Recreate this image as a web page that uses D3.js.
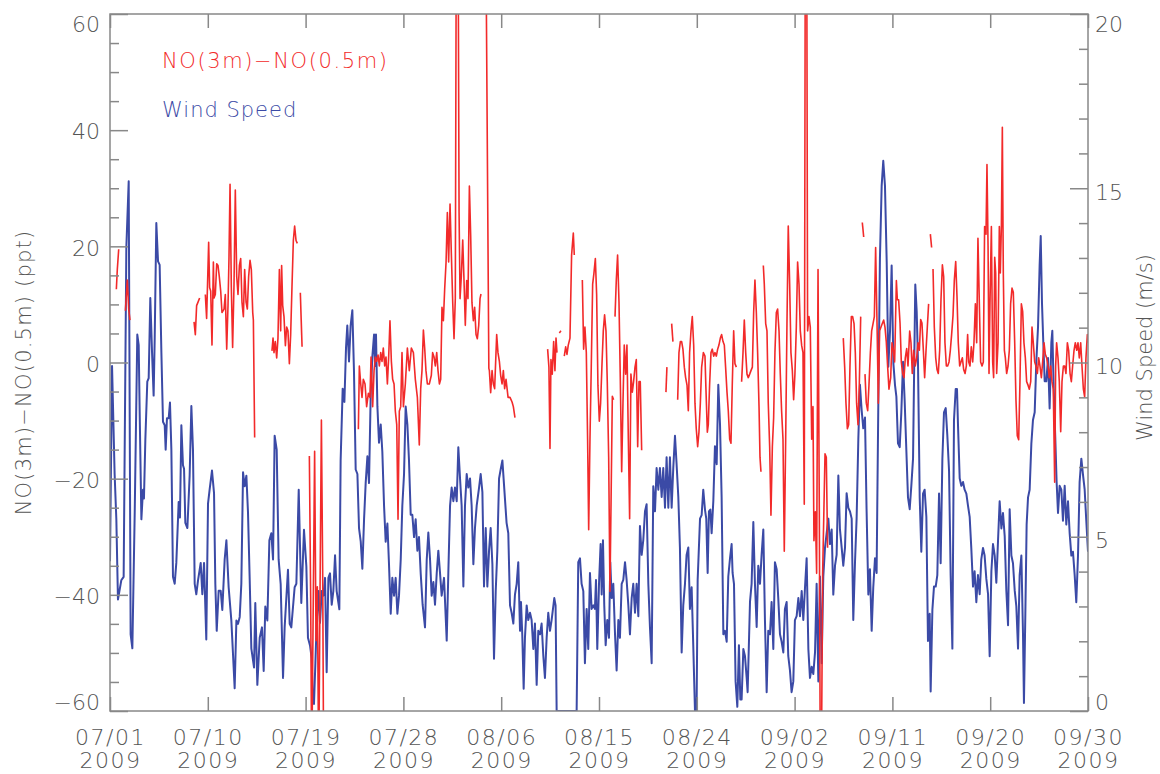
<!DOCTYPE html>
<html>
<head>
<meta charset="utf-8">
<script src="https://cdn.jsdelivr.net/npm/d3@7"></script>
<style>
  body { margin: 0; background: #fff; }
  svg text { font-family: "DejaVu Sans", sans-serif; font-weight: 200; fill: #555; }
</style>
</head>
<body>
<svg id="chart" width="1160" height="774"></svg>
<script>
// time axis: 07/01 .. 09/30 2009, ten equal intervals
const startDay = new Date(Date.UTC(2009, 6, 1))
const endDay = new Date(Date.UTC(2009, 8, 30))
const dateLabels = ['07/01', '07/10', '07/19', '07/28', '08/06', '08/15', '08/24', '09/02', '09/11', '09/20', '09/30']
const yearLabel = '2009'

const noTicks = [-60, -40, -20, 0, 20, 40, 60]
const windTicks = [0, 5, 10, 15, 20]

const seriesNames = ['NO(3m)\u2212NO(0.5m)', 'Wind Speed']
const axisTitles = ['NO(3m)\u2212NO(0.5m) (ppt)', 'Wind Speed (m/s)']

// wind speed, [days since 07/01, m/s]
const windSpeed = [
  [0,4.3],[0.19,9.9],[0.43,6.8],[0.59,5.5],[0.74,3.2],[1.05,3.75],[1.27,3.85],[1.52,13.3],[1.74,15.2],[1.92,2.2],
  [2.08,1.8],[2.3,5.7],[2.54,10.8],[2.67,10.5],[2.76,8.6],[2.92,5.5],[3.07,6.35],[3.16,6.1],[3.29,7.8],[3.47,9.45],
  [3.6,9.55],[3.75,11.85],[3.91,10.3],[4.06,9.05],[4.16,10.7],[4.31,14.0],[4.47,12.9],[4.62,12.8],[4.78,10.3],[4.93,8.3],
  [5.09,8.2],[5.18,7.5],[5.3,8.4],[5.46,8.4],[5.58,8.85],[5.71,7.5],[5.86,3.85],[6.02,3.65],[6.17,4.25],[6.39,6.0],
  [6.51,5.55],[6.64,8.2],[6.79,7.05],[6.89,6.95],[7.01,5.4],[7.2,5.25],[7.41,6.75],[7.57,8.75],[7.72,7.5],[7.88,3.65],
  [8.03,3.35],[8.19,3.75],[8.44,4.25],[8.59,3.35],[8.75,4.25],[8.96,2.05],[9.12,5.95],[9.27,6.35],[9.49,6.9],[9.68,6.25],
  [9.8,3.65],[9.93,2.3],[10.11,3.45],[10.3,3.45],[10.45,2.9],[10.67,4.35],[10.83,4.9],[11.04,3.55],[11.29,2.6],[11.45,1.6],
  [11.6,0.65],[11.76,2.6],[11.91,2.5],[12.07,2.7],[12.22,3.65],[12.38,6.85],[12.53,6.45],[12.69,6.75],[12.84,5.7],[13.0,3.75],
  [13.15,1.8],[13.4,1.25],[13.52,3.1],[13.71,0.75],[13.93,2.1],[14.14,2.4],[14.3,1.15],[14.45,3.0],[14.64,2.6],[14.83,4.9],
  [15.01,5.1],[15.17,4.35],[15.32,7.9],[15.51,7.5],[15.69,4.35],[15.88,3.65],[16.1,0.95],[16.25,2.4],[16.56,4.05],[16.72,2.5],
  [16.87,2.4],[17.18,3.55],[17.34,3.65],[17.56,6.35],[17.8,3.1],[18.05,5.2],[18.27,4.15],[18.42,2.1],[18.61,1.88],[18.77,1.5],
  [18.86,0.33],[18.98,0.2],[19.11,1.37],[19.23,2.53],[19.39,3.44],[19.54,2.53],[19.7,3.44],[19.85,3.31],[20.01,3.82],[20.16,1.11],
  [20.32,3.82],[20.47,3.95],[20.63,3.05],[20.78,3.44],[20.94,4.47],[21.09,3.44],[21.34,2.92],[21.46,7.19],[21.65,9.25],[21.81,8.87],
  [21.96,10.42],[22.08,11.06],[22.24,10.03],[22.39,11.06],[22.55,11.5],[22.7,9.77],[22.86,6.93],[23.02,6.8],[23.17,5.25],[23.33,4.86],
  [23.48,4.08],[23.64,5.5],[23.79,6.54],[23.95,7.31],[24.1,6.54],[24.26,9.12],[24.41,10.16],[24.57,10.8],[24.66,9.9],[24.75,10.8],
  [24.88,8.74],[25.03,7.7],[25.19,8.22],[25.34,7.44],[25.5,5.89],[25.65,4.86],[25.81,5.38],[25.96,4.21],[26.12,2.79],[26.27,3.82],
  [26.43,3.31],[26.58,3.82],[26.74,2.79],[26.89,3.31],[27.05,4.34],[27.2,5.89],[27.36,6.8],[27.51,8.74],[27.67,8.22],[27.82,7.19],
  [27.98,5.63],[28.13,5.63],[28.29,4.99],[28.44,5.5],[28.6,4.6],[28.75,4.99],[28.91,3.95],[29.09,3.05],[29.31,2.4],[29.47,4.34],
  [29.62,5.12],[29.78,4.34],[29.93,3.31],[30.09,3.7],[30.24,3.05],[30.4,3.95],[30.55,4.6],[30.71,3.95],[30.86,3.31],[31.08,3.82],
  [31.33,2.02],[31.48,3.95],[31.64,5.89],[31.79,6.41],[31.95,6.02],[32.1,6.41],[32.26,6.02],[32.41,7.57],[32.57,6.67],[32.72,5.89],
  [32.88,3.57],[33.03,5.89],[33.19,6.8],[33.34,6.41],[33.5,6.67],[33.65,5.89],[33.81,4.21],[33.96,5.25],[34.12,5.89],[34.34,6.41],
  [34.49,6.8],[34.65,6.28],[34.8,3.57],[34.96,5.25],[35.11,3.57],[35.27,4.6],[35.42,5.25],[35.58,4.21],[35.73,1.5],[35.89,3.44],
  [36.04,4.6],[36.2,6.67],[36.35,6.93],[36.51,7.19],[36.9,5.4],[37.06,5.1],[37.22,3.03],[37.37,2.82],[37.53,2.51],[37.68,3.34],
  [37.84,3.65],[37.99,4.27],[38.15,2.3],[38.24,3.13],[38.36,2.2],[38.49,0.64],[38.61,2.1],[38.77,3.03],[38.92,2.61],[39.08,2.82],
  [39.23,2.61],[39.39,1.78],[39.54,2.51],[39.7,0.75],[39.85,2.3],[40.01,2.2],[40.16,2.51],[40.32,1.58],[40.47,0.95],[40.63,2.1],
  [40.78,2.82],[40.94,2.3],[41.09,2.61],[41.34,3.24],[41.46,3.03],[41.56,0],[43.42,0],[43.57,4.27],[43.73,4.38],[43.88,3.65],
  [44.04,3.44],[44.19,1.37],[44.35,2.93],[44.5,1.78],[44.66,3.96],[44.81,2.93],[44.97,3.03],[45.12,2.93],[45.22,3.76],[45.34,1.78],
  [45.5,3.65],[45.65,4.79],[45.75,3.34],[45.87,4.9],[45.99,3.03],[46.12,1.89],[46.27,2.61],[46.43,2.1],[46.55,4.27],[46.68,3.24],
  [46.83,3.65],[46.99,2.2],[47.14,1.16],[47.3,2.61],[47.45,2.1],[47.61,3.65],[47.76,3.76],[47.92,4.27],[48.07,3.76],[48.23,3.03],
  [48.38,2.2],[48.54,3.24],[48.69,3.65],[48.85,2.82],[49.0,3.65],[49.16,2.72],[49.31,5.31],[49.47,4.48],[49.62,4.9],[49.78,5.73],
  [49.93,5.93],[50.09,3.65],[50.24,2.41],[50.4,1.37],[50.55,6.45],[50.71,5.73],[50.86,6.97],[51.02,6.35],[51.17,6.97],[51.33,6.14],
  [51.48,6.97],[51.64,5.83],[51.79,7.28],[51.95,5.83],[52.1,7.28],[52.26,5.83],[52.41,6.97],[52.57,7.9],[52.72,7.08],[52.88,6.14],
  [53.03,4.69],[53.19,1.68],[53.34,3.03],[53.5,3.65],[53.65,4.48],[53.81,4.69],[53.96,2.93],[54.12,3.55],[54.27,1.89],[54.43,0],
  [54.58,0],[54.68,3.76],[54.9,5.52],[55.05,5.62],[55.2,6.35],[55.36,5.78],[55.48,5.52],[55.61,3.96],[55.73,5.73],[55.86,5.78],
  [55.98,5.1],[56.14,6.04],[56.29,7.6],[56.45,7.08],[56.6,9.36],[56.76,8.22],[56.91,6.14],[57.07,2.2],[57.22,2.3],[57.38,1.99],
  [57.53,3.86],[57.69,4.38],[57.84,4.79],[57.93,3.96],[58.06,3.65],[58.21,0.85],[58.37,0.12],[58.52,1.89],[58.65,0.33],[58.77,0.33],
  [58.93,1.78],[59.08,1.58],[59.24,0.95],[59.33,0.54],[59.55,3.13],[59.7,3.65],[59.86,5.42],[60.01,3.65],[60.17,2.41],[60.32,4.17],
  [60.48,3.65],[60.63,4.48],[60.79,5.21],[60.94,2.61],[61.1,0.54],[61.25,2.3],[61.41,2.2],[61.56,3.13],[61.72,1.78],[61.87,4.27],
  [62.03,4.07],[62.18,3.24],[62.34,2.2],[62.49,1.99],[62.65,1.68],[62.8,2.93],[62.96,3.13],[63.11,1.58],[63.27,1.16],[63.42,0.54],
  [63.58,0.85],[63.73,2.61],[63.89,2.72],[64.05,3.24],[64.2,2.72],[64.36,3.44],[64.51,2.61],[64.67,3.55],[64.82,4.38],[64.98,1.78],
  [65.13,0.95],[65.29,1.27],[65.44,1.06],[65.6,1.68],[65.75,3.65],[65.91,0.85],[66.06,3.86],[66.22,1.37],[66.37,3.86],[66.53,4.69],
  [66.68,5.1],[66.84,5.52],[66.99,4.79],[67.15,5.21],[67.3,3.34],[67.46,4.17],[67.61,4.48],[67.77,6.76],[67.92,5.21],[68.08,4.69],
  [68.23,4.17],[68.39,4.69],[68.54,6.25],[68.7,5.83],[68.85,5.73],[69.01,5.52],[69.16,2.61],[69.32,4.27],[69.47,5.52],[69.63,7.8],
  [69.78,9.36],[69.94,8.63],[70.09,8.11],[70.25,8.42],[70.4,5.73],[70.56,3.34],[70.71,4.07],[70.87,2.3],[71.02,3.55],[71.18,4.38],
  [71.33,3.96],[71.49,8.84],[71.64,12.99],[71.8,15.06],[71.95,15.79],[72.11,15.06],[72.27,12.88],[72.42,9.88],[72.58,10.91],[72.73,12.78],
  [72.89,9.98],[73.04,9.36],[73.17,9.02],[73.32,7.68],[73.48,7.57],[73.63,8.57],[73.79,10.02],[73.94,8.91],[74.1,7.46],[74.25,6.13],
  [74.41,5.79],[74.56,6.46],[74.72,7.24],[74.81,9.46],[74.93,12.24],[75.06,11.47],[75.18,10.02],[75.34,6.13],[75.49,4.57],[75.65,6.24],
  [75.8,6.35],[75.96,5.57],[76.11,2.01],[76.27,2.79],[76.36,0.56],[76.52,2.9],[76.67,3.57],[76.83,3.57],[76.98,3.9],[77.14,6.24],
  [77.29,4.24],[77.45,7.24],[77.6,8.57],[77.76,8.69],[77.91,7.91],[78.07,6.9],[78.22,3.9],[78.38,1.79],[78.53,8.35],[78.69,9.24],
  [78.81,9.24],[78.9,8.24],[79.06,6.68],[79.21,6.46],[79.37,6.57],[79.52,6.35],[79.68,6.24],[79.83,5.9],[79.99,5.57],[80.14,4.68],
  [80.3,3.57],[80.45,4.01],[80.61,3.12],[80.76,3.9],[80.92,3.35],[81.07,4.35],[81.23,4.68],[81.38,4.46],[81.54,3.79],[81.7,3.35],
  [81.85,1.57],[82.01,4.01],[82.16,4.79],[82.32,4.46],[82.47,3.68],[82.63,4.9],[82.78,6.02],[82.94,5.24],[83.09,5.68],[83.25,5.01],
  [83.4,3.46],[83.56,2.46],[83.71,5.79],[83.87,4.46],[84.02,4.24],[84.18,3.46],[84.33,3.01],[84.49,1.79],[84.64,3.9],[84.8,4.46],
  [84.95,2.23],[85.04,0.23],[85.17,2.79],[85.29,5.35],[85.42,6.13],[85.57,6.35],[85.73,7.68],[85.88,8.35],[86.04,8.57],[86.19,10.02],
  [86.35,11.02],[86.5,12.8],[86.6,13.63],[86.72,11.69],[86.84,10.58],[86.97,9.46],[87.12,9.46],[87.28,10.13],[87.43,8.68],[87.59,10.58],
  [87.68,10.91],[87.81,9.24],[87.96,7.8],[88.08,6.57],[88.21,5.68],[88.36,6.46],[88.52,6.35],[88.67,5.46],[88.83,6.46],[88.98,5.35],
  [89.14,6.02],[89.29,5.12],[89.45,4.46],[89.6,4.57],[89.76,3.9],[89.91,3.12],[90.07,4.46],[90.22,6.57],[90.38,7.24],[90.53,6.79],
  [90.69,6.35],[90.84,5.46],[91.0,4.57]
]

// NO(3m)-NO(0.5m), ppt; one array per unbroken stretch of data
const noDiff = [
  [[0.59,12.6],[0.68,16.0],[0.81,19.5]],
  [[1.43,8.9],[1.61,14.2],[1.74,9.2],[1.86,7.3]],
  [[7.82,7.0],[7.94,4.8],[8.06,9.8],[8.19,10.4],[8.34,11.1]],
  [[8.87,11.7],[8.99,7.6],[9.18,20.7],[9.27,12.9],[9.37,12.3],[9.49,3.0],[9.62,17.3],[9.68,11.1],[9.8,11.7],[9.93,17.0],
   [10.05,16.7],[10.17,14.8],[10.3,12.3],[10.42,8.6],[10.61,9.2],[10.73,11.7],[10.86,2.3],[10.98,9.8],[11.07,17.9],[11.17,30.7],
   [11.29,12.9],[11.41,2.6],[11.54,13.5],[11.66,29.7],[11.79,14.8],[11.91,11.7],[12.04,16.7],[12.16,17.9],[12.28,10.4],[12.41,7.9],
   [12.53,16.0],[12.66,10.4],[12.78,9.2],[12.9,14.8],[13.03,17.6],[13.15,16.0],[13.28,8.6],[13.34,7.3],[13.46,-12.9]],
  [[15.07,2.0],[15.17,4.2],[15.26,1.7],[15.38,3.6],[15.51,0.8],[15.63,4.2],[15.76,16.0],[15.88,5.45],[15.97,16.7],[16.07,9.8],
   [16.19,7.9],[16.32,2.9],[16.44,6.1],[16.56,5.45],[16.69,-0.2],[16.81,4.8],[16.94,13.5],[17.06,21.0],[17.18,23.5],[17.31,21.0],
   [17.43,20.5]],
  [[17.71,12.0],[17.87,2.7]],
  [[18.55,-16.1],[18.67,-40.2],[18.77,-70],[18.86,-51.8],[19.04,-15.3],[19.17,-47.9],[19.29,-38.6],[19.42,-70],[19.54,-40.2],[19.67,-9.9],
   [19.79,-36.3],[19.88,-70]],
  [[23.11,-11.5],[23.2,-0.6],[23.33,-3.7],[23.45,-6.0],[23.57,-2.9],[23.73,-3.7],[23.88,-7.6],[24.04,-5.3],[24.19,-6.0],[24.29,0.95],
   [24.44,-7.6],[24.57,-1.4],[24.69,0.95],[24.81,0.2],[24.94,1.3],[25.06,-0.6],[25.19,1.7],[25.31,0.2],[25.43,2.5],[25.56,-0.6],
   [25.68,0.95],[25.81,-3.7],[25.93,0.95],[26.05,7.2],[26.18,0.2],[26.3,-2.9],[26.43,-3.7],[26.55,-8.4],[26.68,-10.7],[26.8,-27.0],
   [26.92,-8.4],[27.05,-7.6],[27.17,1.7],[27.3,-7.6],[27.48,-3.7],[27.67,2.5],[27.85,-1.4],[28.04,2.5],[28.23,1.7],[28.41,-2.9],
   [28.6,-6.0],[28.78,-14.2],[28.91,-4.5],[29.03,-1.4],[29.16,5.6],[29.28,2.5],[29.4,-1.4],[29.53,-3.7],[29.71,-3.7],[29.9,-2.2],
   [30.02,1.7],[30.15,0.95],[30.27,-0.6],[30.4,1.7],[30.52,-1.4],[30.65,-3.7],[30.77,-2.9],[30.89,9.5],[31.02,7.2],[31.14,12.6],
   [31.27,17.3],[31.39,25.8],[31.51,17.3],[31.64,27.3],[31.76,18.8],[31.89,10.3],[32.01,4.1],[32.13,11.0],[32.23,80],[32.38,80],
   [32.48,25.8],[32.57,11.0],[32.69,14.9],[32.82,21.1],[32.94,14.1],[33.06,6.4],[33.19,14.1],[33.31,11.0],[33.44,30.4],[33.56,21.9],
   [33.68,10.3],[33.81,7.2],[33.93,9.5],[34.06,4.8],[34.18,4.1],[34.31,6.4],[34.43,11.0],[34.52,11.8]],
  [[34.95,80],[35.25,-1.0],[35.3,-1.4],[35.42,-5.2],[35.55,-1.4],[35.67,-3.7],[35.79,-4.5],[35.98,4.8],[36.1,1.7],[36.23,0.2],
   [36.35,-2.2],[36.48,-3.7],[36.6,-1.4],[36.72,-4.5],[36.85,-2.9],[37.04,-6.0],[37.22,-6.0],[37.41,-6.8],[37.53,-7.6],[37.68,-9.5]],
  [[40.72,2.3],[40.84,-0.8],[40.94,-14.8],[41.03,0.5],[41.15,-2.0],[41.28,3.6],[41.4,-1.4],[41.5,4.2],[41.59,1.7]],
  [[41.81,5.1],[41.96,5.45]],
  [[42.27,1.1],[42.4,2.7],[42.52,1.4],[42.64,3.0],[42.8,4.2],[42.95,18.5],[43.11,22.3],[43.2,18.5]],
  [[43.95,14.2],[44.07,2.3],[44.19,6.1],[44.32,1.7],[44.44,-13.2],[44.54,-28.8],[44.66,-13.2],[44.78,-0.8],[44.91,13.5],[45.03,15.4],
   [45.16,17.9],[45.28,11.7],[45.4,-3.9],[45.53,-10.1],[45.65,-7.0],[45.78,-0.2],[45.9,5.45],[46.02,8.2],[46.15,5.45],[46.27,-3.3],
   [46.4,-16.3],[46.52,-39.4],[46.61,-25.7],[46.74,-5.8],[46.86,-6.4]],
  [[46.99,7.9],[47.11,14.2],[47.23,18.5],[47.36,10.4],[47.48,-2.6],[47.61,-18.8],[47.73,-7.0],[47.85,3.0],[47.98,-2.0],[48.1,3.0],
   [48.23,-13.2],[48.35,-26.9],[48.47,-2.0],[48.6,-5.1],[48.72,-3.3],[48.85,-0.8],[48.97,0.5],[49.1,-14.5],[49.22,-3.3],[49.34,-3.3],
   [49.47,-15.1]],
  [[51.73,-5.1],[51.82,-0.8]],
  [[52.26,6.7],[52.38,3.6]],
  [[52.82,-6.4],[52.94,1.7],[53.07,3.6],[53.19,3.6],[53.31,2.3],[53.44,-0.8],[53.56,-2.6],[53.69,-3.9],[53.81,-8.3],[53.93,1.7],
   [54.06,5.45],[54.18,7.9],[54.31,3.0],[54.43,-7.0],[54.55,-11.4],[54.68,-14.5],[54.8,-12.0],[54.93,-7.0],[55.05,-0.8],[55.21,1.7],
   [55.36,1.1],[55.45,-4.5],[55.58,-12.0],[55.67,-10.7],[55.79,-3.9],[55.92,1.7],[56.04,2.3],[56.17,1.1],[56.29,1.7],[56.42,1.1],
   [56.54,2.3],[56.66,3.0],[56.79,4.2],[56.91,4.8],[57.04,3.6],[57.16,3.0],[57.28,-0.8],[57.41,-5.1],[57.53,-8.3],[57.66,-13.2],
   [57.78,-13.9],[57.9,-3.9],[58.03,5.45],[58.15,-0.2],[58.28,-0.8]],
  [[58.77,-3.3],[58.9,1.7],[59.02,7.3],[59.15,1.7],[59.27,-2.0],[59.39,-2.6],[59.52,-2.0],[59.64,-1.4],[59.77,-0.8],[59.89,8.6],
   [60.01,14.2],[60.14,8.6],[60.26,1.7],[60.39,-7.6],[60.48,-16.3],[60.57,-18.8]],
  [[60.79,16.7],[60.88,13.5],[61.01,6.7],[61.13,5.45],[61.25,-7.0],[61.38,-14.5],[61.5,-26.3],[61.63,-14.5],[61.75,-9.5],[61.87,1.7],
   [62.0,8.6],[62.12,9.2],[62.25,5.45],[62.37,-2.0],[62.49,-8.3],[62.62,-13.2],[62.74,-32.5],[62.87,-13.2],[62.99,6.7],[63.11,23.5],
   [63.24,13.5],[63.36,1.7],[63.49,-1.4],[63.61,-6.4],[63.73,-2.0],[63.86,6.1],[63.98,17.3],[64.11,13.5],[64.23,5.45],[64.36,2.9],
   [64.48,1.7],[64.6,-24.4],[64.7,80],[64.82,80],[64.91,5.45],[65.04,7.9],[65.16,6.1],[65.29,-13.2],[65.41,-7.6],[65.5,-30.7],
   [65.63,-25.7],[65.75,-36.3],[65.88,16.0],[66.0,-25.7],[66.09,-70],[66.19,-70],[66.31,-36.3],[66.53,-15.7],[66.65,-16.3],[66.77,-31.9]],
  [[68.23,4.2],[68.36,-0.8],[68.48,-7.0],[68.61,-11.4],[68.73,-10.7],[68.85,-0.8],[68.98,7.9],[69.1,7.9],[69.23,6.7],[69.35,1.7],
   [69.47,-7.0],[69.6,-10.7],[69.72,-3.9],[69.85,7.9]],
  [[70.0,24.1],[70.13,21.6]],
  [[70.25,-2.0],[70.37,-7.0],[70.5,-8.3],[70.62,-3.9],[70.75,1.7],[70.87,5.45],[71.0,6.7],[71.12,7.9],[71.24,19.8],[71.37,6.7],
   [71.49,-7.0],[71.61,5.45],[71.74,6.1],[71.86,6.7],[71.99,7.3],[72.11,6.1],[72.23,3.6],[72.36,-0.8],[72.48,-4.6],[72.64,-2.6],
   [72.76,3.4],[72.89,2.1],[73.01,0.1],[73.17,14.1],[73.26,10.8],[73.38,10.8],[73.51,6.8],[73.63,0.1],[73.75,-1.9],[73.88,-2.6],
   [74.0,0.8],[74.13,2.4],[74.25,-0.6],[74.41,5.4],[74.53,3.4],[74.65,-1.9],[74.78,2.1],[74.93,-0.6],[75.06,0.8],[75.18,3.4],
   [75.31,2.1],[75.43,7.4],[75.55,6.8],[75.68,2.1],[75.8,-2.6],[75.93,2.1],[76.05,6.1],[76.17,10.1]],
  [[76.33,22.1],[76.45,19.8]],
  [[76.58,16.1],[76.7,6.1],[76.83,0.8],[76.95,-1.2],[77.07,-1.9],[77.2,2.1],[77.32,10.8],[77.45,16.8],[77.57,14.8],[77.69,3.4],
   [77.82,-0.6],[77.94,-0.6],[78.07,0.1],[78.19,2.1],[78.31,4.8],[78.44,8.1],[78.56,14.1],[78.69,17.4],[78.81,11.4],[78.93,3.4],
   [79.06,-0.6],[79.18,0.1],[79.31,0.8],[79.43,-1.2],[79.56,-1.9],[79.68,-0.6],[79.8,4.8],[79.9,0.1],[80.02,-0.6],[80.14,2.7],
   [80.27,0.1],[80.39,3.4],[80.52,10.1],[80.64,3.4],[80.76,21.4],[80.89,10.1],[81.01,0.1],[81.14,-0.6],[81.26,0.1],[81.38,23.4],
   [81.51,22.1],[81.6,34.1],[81.7,20.1],[81.79,-1.9],[81.88,10.1],[82.01,23.4],[82.13,0.1],[82.22,-2.6],[82.32,18.1],[82.41,15.4],
   [82.5,-1.9],[82.63,3.4],[82.75,23.4],[82.84,15.4],[82.94,23.4],[83.03,40.5],[83.12,15.4],[83.22,2.1],[83.31,0.8],[83.43,-1.9],
   [83.56,-0.6],[83.68,2.1],[83.8,10.1],[83.93,12.8],[84.05,12.1],[84.18,3.4],[84.3,-6.6],[84.42,-12.6],[84.55,-13.3],[84.67,-3.3],
   [84.8,10.1],[84.92,8.8],[85.04,3.4],[85.17,0.8],[85.29,-3.3],[85.42,-3.9],[85.54,-4.6],[85.67,-3.3],[85.79,6.1],[85.91,3.4],
   [86.04,0.1],[86.16,-0.6],[86.29,-1.9],[86.41,0.8],[86.53,-0.6],[86.66,-2.6],[86.78,0.1],[86.91,3.4],[87.03,1.4],[87.15,0.8],
   [87.28,-0.6],[87.4,-2.6],[87.53,-0.6],[87.65,-3.3],[87.77,-4.6],[87.9,-20.6],[87.99,-0.6],[88.08,3.4],[88.21,0.8],[88.33,-3.3],
   [88.46,-11.9],[88.58,-3.3],[88.71,-0.6],[88.83,-0.6],[88.95,-1.9],[89.08,3.4],[89.2,2.1],[89.33,-1.9],[89.45,-3.3],[89.57,-0.6],
   [89.7,2.1],[89.82,3.4],[89.95,2.1],[90.07,3.4],[90.19,0.8],[90.32,3.4],[90.44,-0.6],[90.57,-4.6],[90.69,-5.9],[90.81,0.8],
   [90.94,4.8],[91.0,3.4]]
]

const width = 1160
const height = 774
const margin = { top: 14, right: 72, bottom: 63, left: 110 }

const axisColor = '#888'
const textColor = '#555'
const noColor = '#f22a2a'
const windColor = '#3b4aa6'

const dayToDate = d => new Date(startDay.getTime() + d * 864e5)

const svg = d3.select('#chart')

const x = d3.scaleUtc()
  .domain([startDay, endDay])
  .range([margin.left, width - margin.right])

const yNo = d3.scaleLinear()
  .domain([-60, 60])
  .range([height - margin.bottom, margin.top])

const yWind = d3.scaleLinear()
  .domain([0, 20])
  .range([height - margin.bottom, margin.top])

const dateTicks = dateLabels.map((lab, i) =>
  new Date(startDay.getTime() + i * (endDay - startDay) / (dateLabels.length - 1)))

svg.append('clipPath')
    .attr('id', 'plot-clip')
  .append('rect')
    .attr('x', margin.left)
    .attr('y', margin.top)
    .attr('width', width - margin.left - margin.right)
    .attr('height', height - margin.top - margin.bottom)

// Lines

const lineNo = d3.line()
  .x(d => x(dayToDate(d[0])))
  .y(d => yNo(d[1]))

const lineWind = d3.line()
  .x(d => x(dayToDate(d[0])))
  .y(d => yWind(d[1]))

const plot = svg.append('g').attr('clip-path', 'url(#plot-clip)')

plot.append('path')
  .datum(windSpeed)
  .attr('d', lineWind)
  .attr('fill', 'none')
  .attr('stroke', windColor)
  .attr('stroke-width', 2)
  .attr('stroke-linejoin', 'round')

plot.selectAll('.no-seg')
  .data(noDiff)
  .enter()
  .append('path')
    .attr('class', 'no-seg')
    .attr('d', lineNo)
    .attr('fill', 'none')
    .attr('stroke', noColor)
    .attr('stroke-width', 1.6)
    .attr('stroke-linejoin', 'round')

// Axes

const styleAxis = g => {
  g.select('.domain').remove()
  g.selectAll('.tick line').attr('stroke', axisColor).attr('stroke-width', 1.5)
  g.selectAll('.tick text')
    .attr('fill', textColor)
    .style('font-size', '22px')
}

const minorNo = d3.range(-60, 61, 5).filter(v => v % 20 !== 0)
const minorWind = d3.range(0, 21, 1).filter(v => v % 5 !== 0)

svg.append('g')
  .attr('transform', 'translate(' + margin.left + ',0)')
  .call(d3.axisLeft(yNo).tickValues(minorNo).tickSize(-9).tickFormat(''))
  .call(styleAxis)

svg.append('g')
  .attr('transform', 'translate(' + margin.left + ',0)')
  .call(d3.axisLeft(yNo).tickValues(noTicks).tickSize(-18).tickPadding(10)
    .tickFormat(v => d3.format('d')(v).replace('-', '\u2212')))
  .call(styleAxis)
  .call(g => g.selectAll('.tick text')
    .attr('dy', d => d === 60 ? '0.8em' : d === -60 ? '-0.05em' : '0.4em'))

svg.append('g')
  .attr('transform', 'translate(' + (width - margin.right) + ',0)')
  .call(d3.axisRight(yWind).tickValues(minorWind).tickSize(-9).tickFormat(''))
  .call(styleAxis)

svg.append('g')
  .attr('transform', 'translate(' + (width - margin.right) + ',0)')
  .call(d3.axisRight(yWind).tickValues(windTicks).tickSize(-18).tickPadding(7))
  .call(styleAxis)
  .call(g => g.selectAll('.tick text')
    .attr('dy', d => d === 20 ? '0.8em' : d === 0 ? '-0.05em' : '0.5em'))

svg.append('g')
  .attr('transform', 'translate(0,' + margin.top + ')')
  .call(d3.axisTop(x).tickValues(dateTicks).tickSize(-14).tickFormat(''))
  .call(styleAxis)

const bottomAxis = svg.append('g')
  .attr('transform', 'translate(0,' + (height - margin.bottom) + ')')
  .call(d3.axisBottom(x).tickValues(dateTicks).tickSize(-14).tickFormat(''))
  .call(styleAxis)

bottomAxis.selectAll('.tick text').remove()
bottomAxis.selectAll('.tick')
  .append('text')
    .attr('text-anchor', 'middle')
    .attr('fill', textColor)
    .style('font-size', '22px')
    .style('letter-spacing', '1.5px')
    .call(t => t.append('tspan').attr('x', 0).attr('y', 34).text((d, i) => dateLabels[i]))
    .call(t => t.append('tspan').attr('x', 0).attr('y', 57).text(yearLabel))

// frame
svg.append('rect')
  .attr('x', margin.left)
  .attr('y', margin.top)
  .attr('width', width - margin.left - margin.right)
  .attr('height', height - margin.top - margin.bottom)
  .attr('fill', 'none')
  .attr('stroke', axisColor)
  .attr('stroke-width', 1.5)

// Titles

const yMid = d => (margin.top + height - margin.bottom) / 2 + d

svg.append('text')
  .attr('transform', 'translate(31,' + yMid(10) + ') rotate(-90)')
  .attr('text-anchor', 'middle')
  .style('font-size', '21px')
  .style('letter-spacing', '1.2px')
  .text(axisTitles[0])

svg.append('text')
  .attr('transform', 'translate(1152,' + yMid(-15) + ') rotate(-90)')
  .attr('text-anchor', 'middle')
  .style('font-size', '21px')
  .text(axisTitles[1])

// Legend

const legend = svg.append('g')
  .attr('transform', 'translate(162,68)')

legend.selectAll('text')
  .data(seriesNames)
  .enter()
  .append('text')
    .attr('x', 0)
    .attr('y', (d, i) => i * 49)
    .style('font-size', '21px')
    .style('letter-spacing', (d, i) => i === 0 ? '1.6px' : '1px')
    .style('fill', (d, i) => i === 0 ? noColor : windColor)
    .text(d => d)
</script>
</body>
</html>
